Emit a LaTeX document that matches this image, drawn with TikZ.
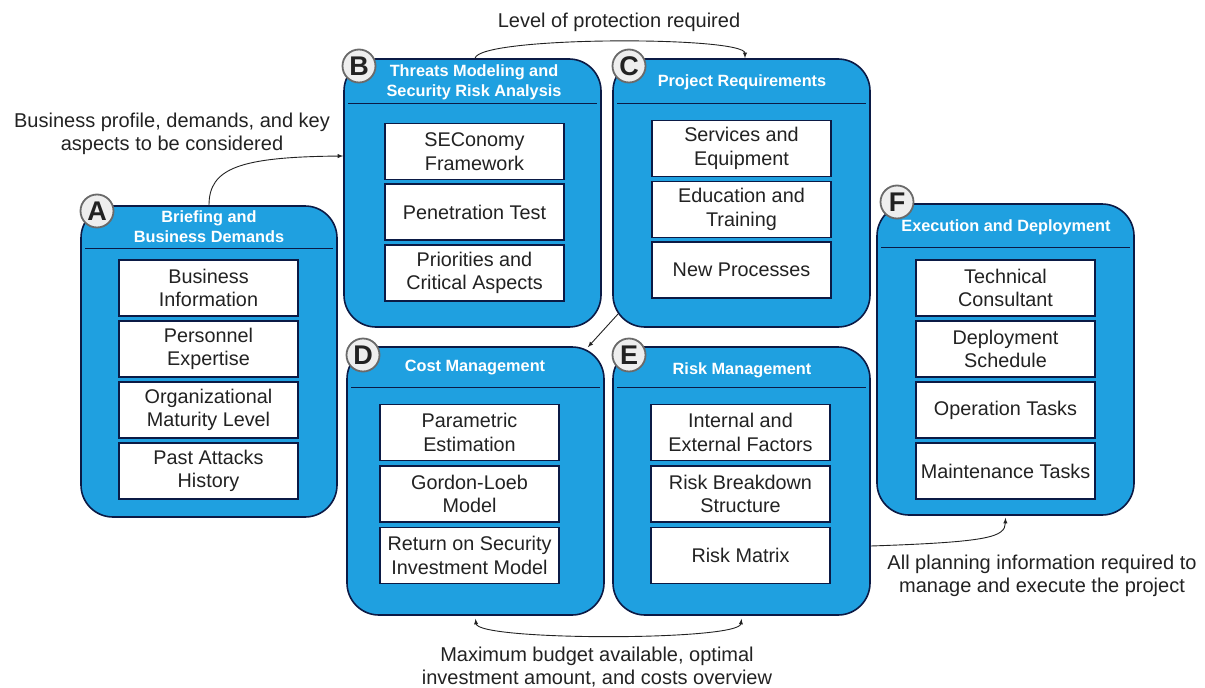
\documentclass[tikz,border=0pt]{standalone}
\usepackage{fontspec}
\setmainfont{Liberation Sans}
\usetikzlibrary{shapes,shapes.misc,arrows}

\definecolor{phaseblue}{HTML}{1FA0E0}
\definecolor{phaseline}{HTML}{0B1A45}
\definecolor{tagfill}{HTML}{EEEEEE}
\definecolor{tagline}{HTML}{6A6A6A}
\definecolor{txt}{HTML}{222222}

\tikzset{
  phase/.style={draw=phaseline, line width=1.6pt, fill=phaseblue, rounded corners=32pt, minimum width=256pt, inner sep=0pt},
  phasetitle/.style={text=white, align=center, font=\fontsize{16.3}{20}\selectfont\bfseries},
  titlerule/.style={draw=phaseline, line width=1.2pt},
  item/.style={draw=phaseline, line width=1.4pt, fill=white, minimum width=179pt, minimum height=56pt, inner sep=0pt, align=center, text=txt, font=\fontsize{19.8}{23.5}\selectfont},
  tag/.style={circle, draw=tagline, line width=1.8pt, fill=tagfill, minimum size=33pt, inner sep=0pt, text=txt, font=\fontsize{27}{27}\selectfont\bfseries},
  note/.style={align=center, text=txt, font=\fontsize{20}{23.5}\selectfont},
  link/.style={->, >=latex, line width=0.9pt, draw=txt}
}

\begin{document}
\begin{tikzpicture}[x=1pt, y=-1pt]
\useasboundingbox (0,0) rectangle (1205,688);

% phases
\node[phase, minimum height=311pt] (A) at (209,361.5) {};
\node[phase, minimum height=268pt, minimum width=257pt] (B) at (472.5,193) {};
\node[phase, minimum height=268pt, minimum width=257pt] (C) at (741.5,193) {};
\node[phase, minimum height=268pt, minimum width=257pt] (D) at (475.5,481) {};
\node[phase, minimum height=268pt, minimum width=257pt] (E) at (741.5,481) {};
\node[phase, minimum height=311pt, minimum width=257pt] (F) at (1005.5,359.5) {};

% titles
\node[phasetitle] (At) at (209,227) {Briefing and\\Business Demands};
\node[phasetitle] (Bt) at (474,82) {Threats Modeling and\\Security Risk Analysis};
\node[phasetitle] (Ct) at (742,82) {Project Requirements};
\node[phasetitle] (Dt) at (475,368) {Cost Management};
\node[phasetitle] (Et) at (742,370) {Risk Management};
\node[phasetitle] (Ft) at (1006,227) {Execution and Deployment};

\draw[titlerule] ([xshift=5pt,yshift=-43pt]A.north west) -- ([xshift=-5pt,yshift=-43pt]A.north east);
\draw[titlerule] ([xshift=5pt,yshift=-45pt]B.north west) -- ([xshift=-5pt,yshift=-45pt]B.north east);
\draw[titlerule] ([xshift=5pt,yshift=-45pt]C.north west) -- ([xshift=-5pt,yshift=-45pt]C.north east);
\draw[titlerule] ([xshift=5pt,yshift=-41pt]D.north west) -- ([xshift=-5pt,yshift=-41pt]D.north east);
\draw[titlerule] ([xshift=5pt,yshift=-41pt]E.north west) -- ([xshift=-5pt,yshift=-41pt]E.north east);
\draw[titlerule] ([xshift=5pt,yshift=-44pt]F.north west) -- ([xshift=-5pt,yshift=-44pt]F.north east);

% items
\node[item] (a1) at (208.5,288) {Business\\Information};
\node[item] (a2) at (208.5,349) {Personnel\\Expertise};
\node[item] (a3) at (208.5,410) {Organizational\\Maturity Level};
\node[item] (a4) at (208.5,471) {Past Attacks\\History};

\node[item] (b1) at (474.5,151.5) {SEConomy\\Framework};
\node[item] (b2) at (474.5,212) {Penetration Test};
\node[item] (b3) at (474.5,273) {Priorities and\\Critical Aspects};

\node[item] (c1) at (741.5,148.5) {Services and\\Equipment};
\node[item] (c2) at (741.5,209.5) {Education and\\Training};
\node[item] (c3) at (741.5,270) {New Processes};

\node[item] (d1) at (469.5,432.5) {Parametric\\Estimation};
\node[item] (d2) at (469.5,494) {Gordon-Loeb\\Model};
\node[item] (d3) at (469.5,555.5) {Return on Security\\Investment Model};

\node[item] (e1) at (740.5,432.5) {Internal and\\External Factors};
\node[item] (e2) at (740.5,494) {Risk Breakdown\\Structure};
\node[item] (e3) at (740.5,555.5) {Risk Matrix};

\node[item] (f1) at (1005.5,288) {Technical\\Consultant};
\node[item] (f2) at (1005.5,349) {Deployment\\Schedule};
\node[item] (f3) at (1005.5,410) {Operation Tasks};
\node[item] (f4) at (1005.5,471) {Maintenance Tasks};

% letters
\node[tag] (tA) at (97,211) {A};
\node[tag] (tB) at (359,66) {B};
\node[tag] (tC) at (629,66) {C};
\node[tag] (tD) at (363,355) {D};
\node[tag] (tE) at (629,355) {E};
\node[tag] (tF) at (897,202) {F};

% flows
\draw[link] (A.north) .. controls (209,168) and (240,157) .. ([yshift=37pt]B.west);
\draw[link] ([xshift=2.5pt]B.north) .. controls (480,36) and (745,36) .. ([xshift=3.5pt]C.north);
\draw[link] ([xshift=6pt,yshift=14pt]C.south west) -- ([xshift=-17pt,yshift=-1pt]D.north east);
\draw[link, <->] ([yshift=-3pt]D.south) .. controls (478,641) and (739,641) .. ([yshift=-3pt]E.south);
\draw[link] ([yshift=-65pt]E.east) .. controls (990,542) and (1005,537) .. ([yshift=-2pt]F.south);

% notes
\node[note] (nAB) at (172,134) {Business profile, demands, and key\\aspects to be considered};
\node[note] (nBC) at (619,22) {Level of protection required};
\node[note] (nDE) at (597,667) {Maximum budget available, optimal\\investment amount, and costs overview};
\node[note] (nEF) at (1042,576) {All planning information required to\\manage and execute the project};
\end{tikzpicture}
\end{document}
